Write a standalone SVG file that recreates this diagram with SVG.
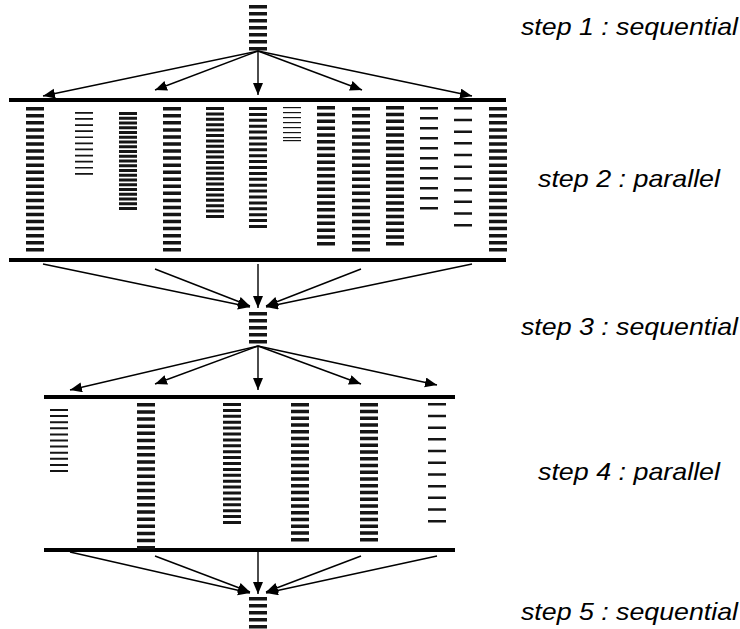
<svg xmlns="http://www.w3.org/2000/svg" width="740" height="629" viewBox="0 0 740 629">
<style>
.bar{stroke:#151515;stroke-width:18;fill:none}
.rule{stroke:#000;stroke-width:4}
.arr{stroke:#000;stroke-width:1.4;fill:none;marker-end:url(#ah)}
.lbl{font-family:"Liberation Sans",Arial,sans-serif;font-style:italic;font-size:24px;fill:#000}
</style>
<defs>
<marker id="ah" markerUnits="userSpaceOnUse" markerWidth="14" markerHeight="12" refX="12" refY="5" orient="auto">
<path d="M0,0 L12,5 L0,10 z" fill="#000"/>
</marker>
</defs>
<rect width="740" height="629" fill="#fff"/>

<g id="step1">
<line class="bar" x1="258" y1="5" x2="258" y2="50.5" stroke-dasharray="3.5 3.5"/>
</g>

<g id="step2">
<line class="rule" x1="9" y1="100" x2="506" y2="100"/>
<line class="rule" x1="9" y1="260" x2="506" y2="260"/>
<line class="bar" x1="35" y1="107" x2="35" y2="251.5" stroke-dasharray="3.5 3.55"/>
<line class="bar" x1="84" y1="112" x2="84" y2="174.7" stroke-dasharray="1.7 4.4"/>
<line class="bar" x1="128" y1="112" x2="128" y2="210" stroke-dasharray="3 1.75"/>
<line class="bar" x1="172" y1="107" x2="172" y2="251.5" stroke-dasharray="3.5 3.55"/>
<line class="bar" x1="215" y1="107" x2="215" y2="218" stroke-dasharray="3 2.4"/>
<line class="bar" x1="258" y1="107" x2="258" y2="228" stroke-dasharray="3 2.9"/>
<g fill="#151515">
<rect x="283" y="107" width="18" height="1.2"/>
<rect x="283" y="112" width="18" height="1.2"/>
<rect x="283" y="117" width="18" height="1.2"/>
<rect x="283" y="122" width="18" height="1.2"/>
<rect x="283" y="127" width="18" height="1.2"/>
<rect x="283" y="132" width="18" height="1.2"/>
<rect x="283" y="137" width="18" height="1.2"/>
<rect x="283" y="140" width="18" height="1.2"/>
</g>
<line class="bar" x1="326" y1="106" x2="326" y2="245.5" stroke-dasharray="3.5 3.3"/>
<line class="bar" x1="361" y1="107" x2="361" y2="251.5" stroke-dasharray="3.5 3.55"/>
<line class="bar" x1="395" y1="106" x2="395" y2="245.5" stroke-dasharray="3.5 3.3"/>
<line class="bar" x1="429" y1="107" x2="429" y2="209.5" stroke-dasharray="2.5 7.5"/>
<line class="bar" x1="463" y1="107" x2="463" y2="226.5" stroke-dasharray="2.5 9.2"/>
<line class="bar" x1="498" y1="107" x2="498" y2="251.5" stroke-dasharray="3.5 3.55"/>
</g>

<g id="step3">
<line class="bar" x1="258" y1="312" x2="258" y2="343.5" stroke-dasharray="3.5 3.5"/>
</g>

<g id="step4">
<line class="rule" x1="44" y1="397" x2="455" y2="397"/>
<line class="rule" x1="44" y1="550" x2="455" y2="550"/>
<line class="bar" x1="59" y1="409" x2="59" y2="472" stroke-dasharray="2 4.1"/>
<line class="bar" x1="146" y1="403" x2="146" y2="549.5" stroke-dasharray="3.5 3.65"/>
<line class="bar" x1="232" y1="403" x2="232" y2="524" stroke-dasharray="3 2.9"/>
<line class="bar" x1="300" y1="403" x2="300" y2="541.5" stroke-dasharray="3.5 3.25"/>
<line class="bar" x1="369" y1="403" x2="369" y2="541.5" stroke-dasharray="3.5 3.25"/>
<line class="bar" x1="437" y1="403" x2="437" y2="522.5" stroke-dasharray="2.5 9.2"/>
</g>

<g id="step5">
<line class="bar" x1="258" y1="597" x2="258" y2="628.5" stroke-dasharray="3.5 3.5"/>
</g>

<g id="connectors">
<line class="arr" x1="258" y1="51" x2="43" y2="96"/>
<line class="arr" x1="258" y1="51" x2="155" y2="90"/>
<line class="arr" x1="258" y1="51" x2="258" y2="95"/>
<line class="arr" x1="258" y1="51" x2="362" y2="90"/>
<line class="arr" x1="258" y1="51" x2="472" y2="96"/>

<line class="arr" x1="43" y1="264" x2="250" y2="307"/>
<line class="arr" x1="155" y1="269" x2="250" y2="306"/>
<line class="arr" x1="258" y1="264" x2="258" y2="308"/>
<line class="arr" x1="361" y1="269" x2="266" y2="306"/>
<line class="arr" x1="472" y1="264" x2="266" y2="307"/>

<line class="arr" x1="258" y1="346" x2="70" y2="390"/>
<line class="arr" x1="258" y1="346" x2="155" y2="384"/>
<line class="arr" x1="258" y1="346" x2="258" y2="390"/>
<line class="arr" x1="258" y1="346" x2="361" y2="384"/>
<line class="arr" x1="258" y1="346" x2="437" y2="385"/>

<line class="arr" x1="70" y1="552" x2="250" y2="593"/>
<line class="arr" x1="155" y1="556" x2="250" y2="592"/>
<line class="arr" x1="258" y1="552" x2="258" y2="594"/>
<line class="arr" x1="361" y1="556" x2="266" y2="592"/>
<line class="arr" x1="437" y1="556" x2="266" y2="593"/>
</g>

<g id="labels">
<text class="lbl" x="521" y="35" textLength="217" lengthAdjust="spacingAndGlyphs">step 1 : sequential</text>
<text class="lbl" x="538" y="187" textLength="182" lengthAdjust="spacingAndGlyphs">step 2 : parallel</text>
<text class="lbl" x="521" y="335" textLength="217" lengthAdjust="spacingAndGlyphs">step 3 : sequential</text>
<text class="lbl" x="538" y="480" textLength="182" lengthAdjust="spacingAndGlyphs">step 4 : parallel</text>
<text class="lbl" x="521" y="620" textLength="217" lengthAdjust="spacingAndGlyphs">step 5 : sequential</text>
</g>
</svg>
